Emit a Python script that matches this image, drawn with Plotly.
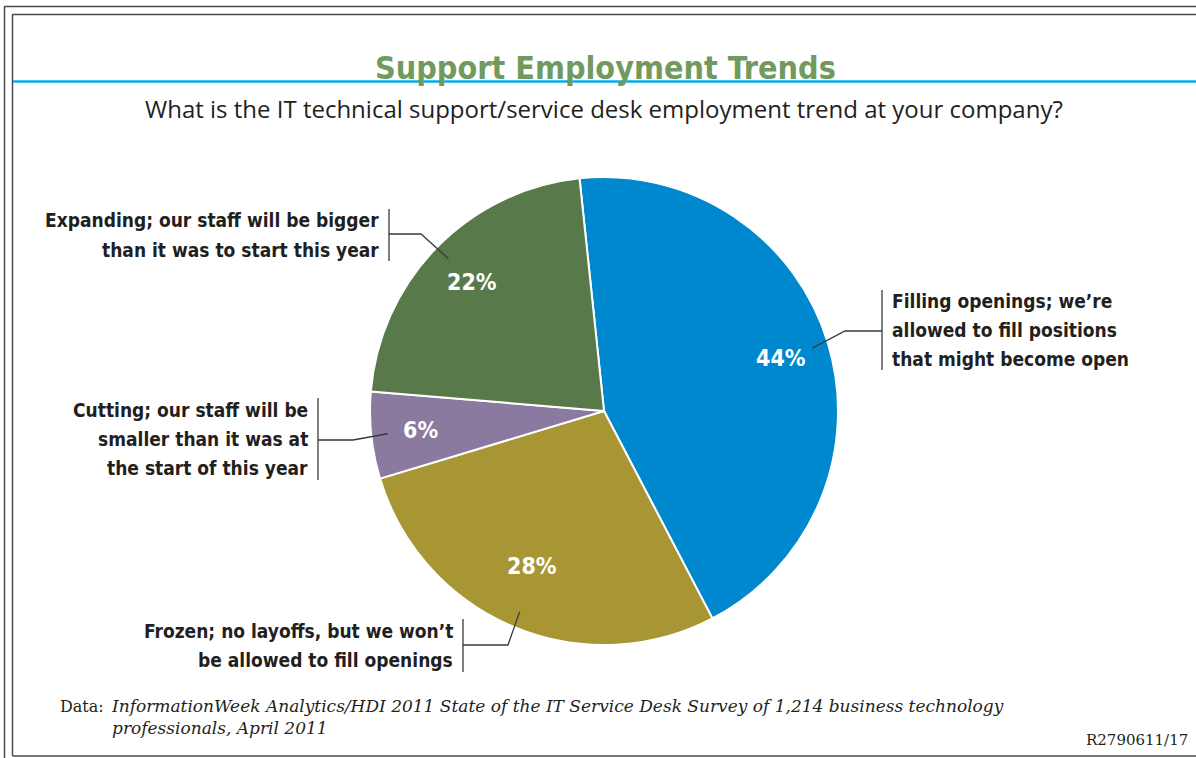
import math
import plotly.graph_objects as go

# Survey answers (clockwise from the top of the pie)
categories = [
    "Filling openings; we’re<br>allowed to fill positions<br>that might become open",
    "Frozen; no layoffs, but we won’t<br>be allowed to fill openings",
    "Cutting; our staff will be<br>smaller than it was at<br>the start of this year",
    "Expanding; our staff will be bigger<br>than it was to start this year",
]
shares = [44, 28, 6, 22]
slice_colors = ["#0088cf", "#a89534", "#8b7aa0", "#587a4b"]

W, H = 1196, 758
CX, CY, R = 604, 411, 234          # pie centre and radius, pixels
START = -6                           # angle of the first slice edge, degrees clockwise from 12 o'clock

LABEL_FONT = "DejaVu Sans Condensed, Liberation Sans Narrow, Arial Narrow, sans-serif"
SERIF = "DejaVu Serif, Liberation Serif, serif"
INK = "#231f20"


def px(x):
    return x / W


def py(y):
    return 1 - y / H


fig = go.Figure()
fig.add_trace(go.Pie(
    labels=[c.replace("<br>", " ") for c in categories],
    values=shares,
    sort=False,
    direction="clockwise",
    rotation=START,
    marker=dict(colors=slice_colors, line=dict(color="white", width=2)),
    textinfo="none",
    hoverinfo="label+percent",
    showlegend=False,
    domain=dict(x=[px(CX - R), px(CX + R)], y=[py(CY + R), py(CY - R)]),
))

# mid-angle of each slice, derived from the values
total = sum(shares)
mids = []
acc = 0
for v in shares:
    mids.append(START + (acc + v / 2) / total * 360)
    acc += v


def polar(angle_deg, frac):
    a = math.radians(angle_deg)
    return CX + frac * R * math.sin(a), CY - frac * R * math.cos(a)


annotations = []
shapes = []

# percentage labels inside the slices
for v, m in zip(shares, mids):
    x, y = polar(m, 0.79)
    annotations.append(dict(
        x=px(x), y=py(y), xref="paper", yref="paper", text=f"{v}%",
        showarrow=False, font=dict(family=LABEL_FONT, size=23, color="white", weight="bold"),
    ))

# outside labels: bracket bar, elbow of the leader line, side the text sits on
label_layout = [
    dict(bar_x=882, y0=290, y1=370, ex=845, ey=331, side="right"),
    dict(bar_x=463, y0=619, y1=672, ex=508, ey=645, side="left"),
    dict(bar_x=318, y0=398, y1=480, ex=353, ey=440, side="left"),
    dict(bar_x=389, y0=209, y1=261, ex=421, ey=234, side="left"),
]
LINE_STEP = 29
line_style = dict(color="#3a3a3a", width=1.3)
for cat, m, lay in zip(categories, mids, label_layout):
    sx, sy = polar(m, 0.93)
    bx = lay["bar_x"]
    shapes.append(dict(type="line", xref="paper", yref="paper",
                       x0=px(bx), x1=px(bx), y0=py(lay["y0"]), y1=py(lay["y1"]), line=line_style))
    shapes.append(dict(type="path", xref="paper", yref="paper",
                       path=f"M {px(sx)} {py(sy)} L {px(lay['ex'])} {py(lay['ey'])} L {px(bx)} {py(lay['ey'])}",
                       line=line_style))
    if lay["side"] == "right":
        tx, anchor = bx + 8, "left"
    else:
        tx, anchor = bx - 8, "right"
    lines = cat.split("<br>")
    centre = (lay["y0"] + lay["y1"]) / 2
    for i, txt in enumerate(lines):
        ly = centre + (i - (len(lines) - 1) / 2) * LINE_STEP
        annotations.append(dict(
            x=px(tx), y=py(ly), xref="paper", yref="paper",
            text=txt, showarrow=False, xanchor=anchor, yanchor="middle",
            font=dict(family=LABEL_FONT, size=19, color=INK, weight="bold"),
        ))

# frame (double rule on top/left) and title rule
frame = dict(color="#4a4a4a", width=1.5)
shapes += [
    dict(type="line", xref="paper", yref="paper", x0=px(4.5), x1=px(4.5), y0=py(6), y1=py(758), line=frame),
    dict(type="line", xref="paper", yref="paper", x0=px(4.5), x1=1, y0=py(6.5), y1=py(6.5), line=frame),
    dict(type="line", xref="paper", yref="paper", x0=px(12.5), x1=px(12.5), y0=py(14), y1=py(756), line=frame),
    dict(type="line", xref="paper", yref="paper", x0=px(12.5), x1=1, y0=py(14.5), y1=py(14.5), line=frame),
    dict(type="line", xref="paper", yref="paper", x0=px(12.5), x1=1, y0=py(756), y1=py(756), line=frame),
    dict(type="line", xref="paper", yref="paper", x0=px(13), x1=1, y0=py(81.5), y1=py(81.5),
         line=dict(color="#00aeef", width=2.5)),
]

# titles and footer
annotations += [
    dict(x=px(605), y=py(89), xref="paper", yref="paper", yanchor="bottom", showarrow=False,
         text="Support Employment Trends",
         font=dict(family=LABEL_FONT, size=32, color="#709a5e", weight="bold")),
    dict(x=px(604), y=py(108), xref="paper", yref="paper", yanchor="middle", showarrow=False,
         text="What is the IT technical support/service desk employment trend at your company?",
         font=dict(family="Open Sans, Noto Sans, sans-serif", size=24, color=INK)),
    dict(x=px(58), y=py(706), xref="paper", yref="paper", xanchor="left", yanchor="middle", showarrow=False,
         text="Data:", font=dict(family=SERIF, size=16, color=INK)),
    dict(x=px(109), y=py(717), xref="paper", yref="paper", xanchor="left", yanchor="middle", showarrow=False,
         align="left",
         text="<i>InformationWeek Analytics/HDI 2011 State of the IT Service Desk Survey of 1,214 business technology"
              "<br>professionals, April 2011</i>",
         font=dict(family=SERIF, size=17, color=INK)),
    dict(x=px(1190), y=py(740), xref="paper", yref="paper", xanchor="right", yanchor="middle", showarrow=False,
         text="R2790611/17", font=dict(family=SERIF, size=15, color=INK)),
]

fig.update_layout(
    width=W, height=H,
    margin=dict(l=0, r=0, t=0, b=0),
    paper_bgcolor="white",
    plot_bgcolor="white",
    shapes=shapes,
    annotations=annotations,
)

fig.write_html("out.html")
